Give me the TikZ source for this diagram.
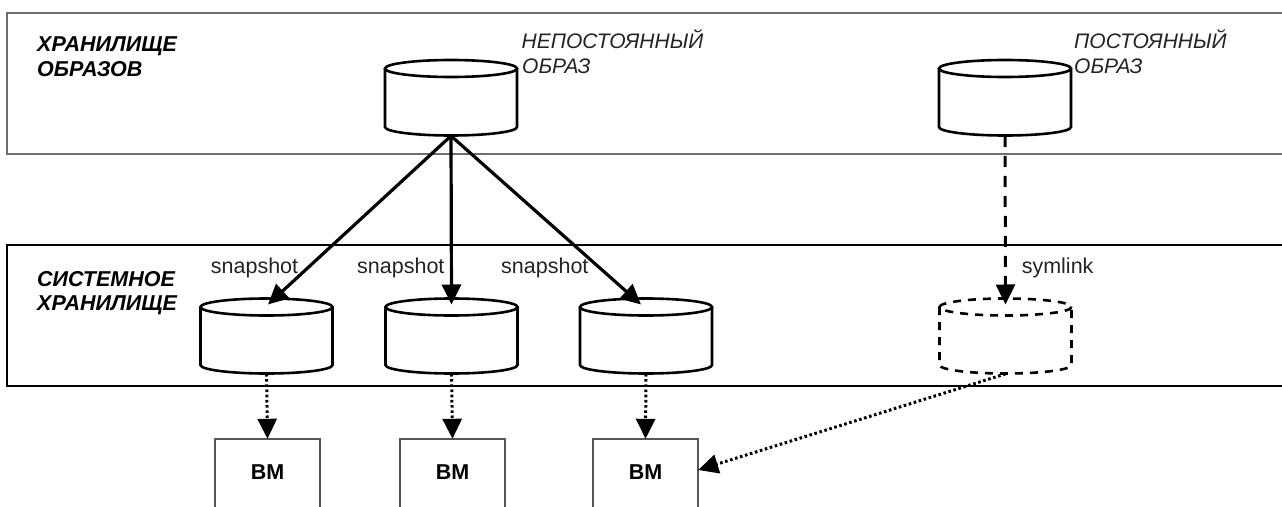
\documentclass[tikz,border=0pt]{standalone}
\usepackage{fontspec}
\setmainfont{Liberation Sans}
\usetikzlibrary{arrows.meta,calc}

\definecolor{bandgray}{RGB}{110,110,110}
\definecolor{boxgray}{RGB}{85,85,85}
\definecolor{labelgray}{RGB}{35,35,35}

\tikzset{
  txt/.style={anchor=base west, inner sep=0pt, font=\fontsize{21.5}{24}\selectfont},
  areatitle/.style={txt, font=\fontsize{21.5}{24}\selectfont\bfseries\itshape},
  imgname/.style={txt, font=\fontsize{21}{24}\selectfont\itshape, text=labelgray},
  opname/.style={txt, text=labelgray},
  upperband/.style={draw=bandgray, line width=2.6pt},
  lowerband/.style={draw=black, line width=1.6pt},
  cylbox/.style={draw=none, inner sep=0pt, minimum width=132pt},
  cylline/.style={draw=black, line width=2.6pt},
  ghost/.style={dash pattern=on 8pt off 7pt},
  vmbox/.style={draw=none, inner sep=0pt, minimum width=105pt, minimum height=66pt,
    font=\fontsize{21.5}{24}\selectfont\bfseries},
  vmedge/.style={draw=boxgray, line width=2.4pt},
  tip/.style={-{Triangle[length=20pt, width=19pt]}},
  copyarrow/.style={tip, line width=3.2pt},
  linkarrow/.style={tip, line width=3pt, dash pattern=on 11pt off 9pt},
  usearrow/.style={tip, line width=3pt, dash pattern=on 2.6pt off 2.6pt},
}

% disk image: #2 name, #3 centre x, #4 centre y of the top ellipse, #5 body height
\newcommand\diskimage[5][]{%
  \node[cylbox, minimum height=#5+17, anchor=north] (#2) at (#3,#4-8.5) {};
  \draw[cylline,#1] (#3,#4) ellipse[x radius=66, y radius=8.5];
  \draw[cylline,#1] (#3-66,#4) -- (#3-66,#4+#5)
    arc[start angle=180, end angle=0, x radius=66, y radius=8.5] -- (#3+66,#4);
}

\begin{document}
\begin{tikzpicture}[x=1pt, y=-1pt]
  \useasboundingbox (0,0) rectangle (1282,506);
  \fill[white] (0,0) rectangle (1282,506);

  % storage areas (open to the right)
  \draw[upperband] (1300,13) -- (7,13) -- (7,154) -- (1300,154);
  \draw[lowerband] (1300,245) -- (7,245) -- (7,386) -- (1300,386);

  % area titles
  \node[areatitle] (imgstoreA) at (37,51) {ХРАНИЛИЩЕ};
  \node[areatitle] (imgstoreB) at (37,76.5) {ОБРАЗОВ};
  \node[areatitle] (sysstoreA) at (37,286.7) {СИСТЕМНОЕ};
  \node[areatitle] (sysstoreB) at (37,310.7) {ХРАНИЛИЩЕ};

  % images in the image store
  \diskimage{volimg}{451}{68.5}{58.5}
  \diskimage{permimg}{1005}{68.5}{58.5}
  \node[imgname] (volnameA) at (521.5,48.3) {НЕПОСТОЯННЫЙ};
  \node[imgname] (volnameB) at (522,73.3) {ОБРАЗ};
  \node[imgname] (permnameA) at (1074,48.3) {ПОСТОЯННЫЙ};
  \node[imgname] (permnameB) at (1074,73.3) {ОБРАЗ};

  % disks in the system store
  \diskimage{snapA}{266.5}{307}{58}
  \diskimage{snapB}{451.5}{307}{58}
  \diskimage{snapC}{646}{307}{58}
  \diskimage[ghost]{linkdisk}{1005.5}{307}{58}

  \node[opname] (opA) at (210.7,273) {snapshot};
  \node[opname] (opB) at (357,273) {snapshot};
  \node[opname] (opC) at (501,273) {snapshot};
  \node[opname] (opD) at (1021.6,273) {symlink};

  % virtual machines
  \node[vmbox] (vmA) at (267.5,472) {ВМ};
  \node[vmbox] (vmB) at (452.5,472) {ВМ};
  \node[vmbox] (vmC) at (645.5,472) {ВМ};
  \foreach \v in {vmA,vmB,vmC}{
    \draw[vmedge] ($(\v.south west)+(0,8)$) -- (\v.north west) -- (\v.north east)
      -- ($(\v.south east)+(0,8)$);
  }

  % connectors
  \draw[copyarrow] (volimg.south) -- ($(snapA.north)+(1.5,6)$);
  \draw[copyarrow] (volimg.south) -- ($(snapB.north)+(0,6)$);
  \draw[copyarrow] (volimg.south) -- ($(snapC.north)+(-5,6)$);
  \draw[linkarrow] (permimg.south) -- ($(linkdisk.north)+(0,6)$);

  \draw[usearrow] (snapA.south) -- (vmA.north);
  \draw[usearrow] (snapB.south) -- (vmB.north);
  \draw[usearrow] (snapC.south) -- (vmC.north);
  \draw[usearrow] (linkdisk.south) -- ($(vmC.east)+(0,-2)$);
\end{tikzpicture}
\end{document}
